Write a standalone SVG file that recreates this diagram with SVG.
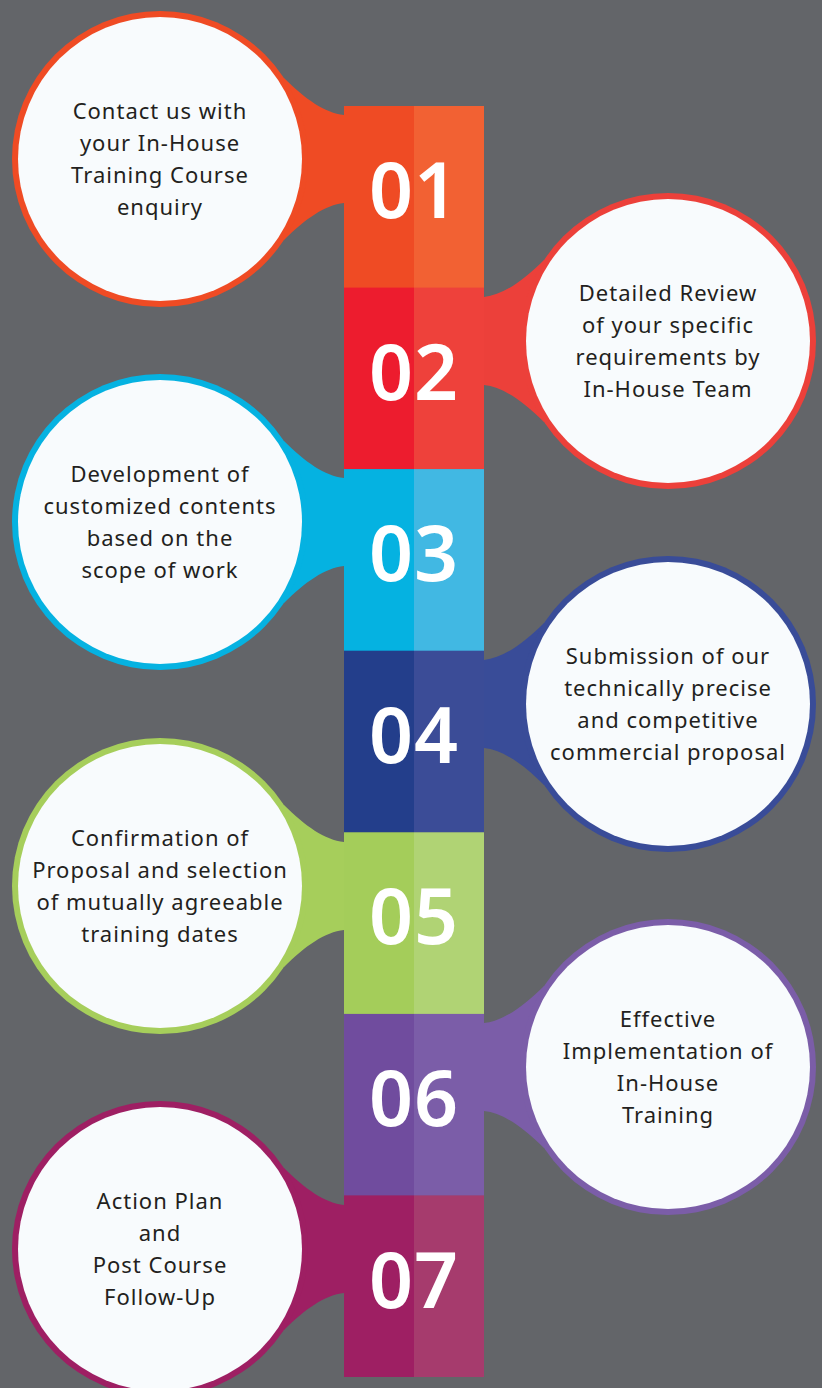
<svg xmlns="http://www.w3.org/2000/svg" width="822" height="1388" viewBox="0 0 822 1388">
<defs>
<style>
.t{font-family:"Noto Sans","Liberation Sans",sans-serif;font-size:22px;letter-spacing:1px;fill:#231f20;text-anchor:middle}
.n{font-family:"Noto Sans","Liberation Sans",sans-serif;font-size:77px;font-weight:600;letter-spacing:1px;fill:#ffffff;text-anchor:middle}
.w{fill:#f8fbfd}
</style>
<path id="neck" d="M124,-81 C145,-60 165,-46 184,-44 L190,-44 L190,44 L184,44 C165,46 145,60 124,81 Z"/>
</defs>
<rect width="822" height="1388" fill="#636569"/>
<g id="node1">
<g transform="translate(160,159)" fill="#ef4b24"><use href="#neck"/><circle r="148"/><circle class="w" r="142"/></g>
<text class="t"><tspan x="160" y="119">Contact us with</tspan><tspan x="160" y="151">your In-House</tspan><tspan x="160" y="183">Training Course</tspan><tspan x="160" y="215">enquiry</tspan></text>
</g>
<g id="node2">
<g transform="translate(668,341) scale(-1,1)" fill="#ec403a"><use href="#neck"/><circle r="148"/><circle class="w" r="142"/></g>
<text class="t"><tspan x="668" y="301">Detailed Review</tspan><tspan x="668" y="333">of your specific</tspan><tspan x="668" y="365">requirements by</tspan><tspan x="668" y="397">In-House Team</tspan></text>
</g>
<g id="node3">
<g transform="translate(160,522)" fill="#05b2e1"><use href="#neck"/><circle r="148"/><circle class="w" r="142"/></g>
<text class="t"><tspan x="160" y="482">Development of</tspan><tspan x="160" y="514">customized contents</tspan><tspan x="160" y="546">based on the</tspan><tspan x="160" y="578">scope of work</tspan></text>
</g>
<g id="node4">
<g transform="translate(668,704) scale(-1,1)" fill="#394c98"><use href="#neck"/><circle r="148"/><circle class="w" r="142"/></g>
<text class="t"><tspan x="668" y="664">Submission of our</tspan><tspan x="668" y="696">technically precise</tspan><tspan x="668" y="728">and competitive</tspan><tspan x="668" y="760">commercial proposal</tspan></text>
</g>
<g id="node5">
<g transform="translate(160,886)" fill="#a6ce5b"><use href="#neck"/><circle r="148"/><circle class="w" r="142"/></g>
<text class="t"><tspan x="160" y="846">Confirmation of</tspan><tspan x="160" y="878">Proposal and selection</tspan><tspan x="160" y="910">of mutually agreeable</tspan><tspan x="160" y="942">training dates</tspan></text>
</g>
<g id="node6">
<g transform="translate(668,1067) scale(-1,1)" fill="#7b5da8"><use href="#neck"/><circle r="148"/><circle class="w" r="142"/></g>
<text class="t"><tspan x="668" y="1027">Effective</tspan><tspan x="668" y="1059">Implementation of</tspan><tspan x="668" y="1091">In-House</tspan><tspan x="668" y="1123">Training</tspan></text>
</g>
<g id="node7">
<g transform="translate(160,1249)" fill="#9e1f63"><use href="#neck"/><circle r="148"/><circle class="w" r="142"/></g>
<text class="t"><tspan x="160" y="1209">Action Plan</tspan><tspan x="160" y="1241">and</tspan><tspan x="160" y="1273">Post Course</tspan><tspan x="160" y="1305">Follow-Up</tspan></text>
</g>
<g id="column">
<rect x="344" y="106" width="70" height="182" fill="#ef4b24"/><rect x="414" y="106" width="70" height="182" fill="#f26133"/>
<rect x="344" y="287.6" width="70" height="182" fill="#ed1c2e"/><rect x="414" y="287.6" width="70" height="182" fill="#ee413b"/>
<rect x="344" y="469.1" width="70" height="182" fill="#05b2e1"/><rect x="414" y="469.1" width="70" height="182" fill="#41b8e3"/>
<rect x="344" y="650.7" width="70" height="182" fill="#233e8b"/><rect x="414" y="650.7" width="70" height="182" fill="#3b4c97"/>
<rect x="344" y="832.3" width="70" height="182" fill="#a4cd5a"/><rect x="414" y="832.3" width="70" height="182" fill="#b0d374"/>
<rect x="344" y="1013.9" width="70" height="182" fill="#704c9e"/><rect x="414" y="1013.9" width="70" height="182" fill="#7b5da8"/>
<rect x="344" y="1195.4" width="70" height="181.6" fill="#9e1f63"/><rect x="414" y="1195.4" width="70" height="181.6" fill="#a63b6d"/>
<text class="n" x="414" y="218">01</text>
<text class="n" x="414" y="400">02</text>
<text class="n" x="414" y="581">03</text>
<text class="n" x="414" y="763">04</text>
<text class="n" x="414" y="944">05</text>
<text class="n" x="414" y="1126">06</text>
<text class="n" x="414" y="1308">07</text>
</g>
</svg>
